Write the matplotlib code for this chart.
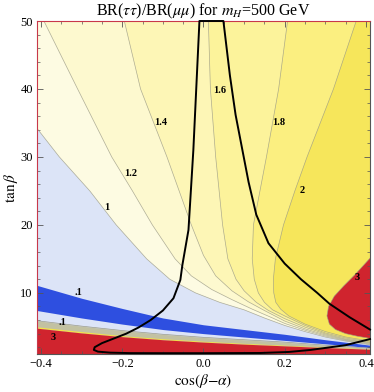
import numpy as np
import matplotlib.pyplot as plt
from matplotlib.ticker import MultipleLocator

plt.rcParams['font.family'] = ['Liberation Serif', 'DejaVu Serif']
plt.rcParams['mathtext.fontset'] = 'stix'

XMIN, XMAX = -0.41, 0.41
YMIN, YMAX = 1.0, 50.0

# contour lines of BR ratio: (cos(b-a), tan b)
levels = [1.0, 1.2, 1.4, 1.6, 1.8, 2.0]
c10_x = [-0.41, -0.355, -0.28, -0.215, -0.14, -0.083, -0.02, 0.04, 0.10, 0.15, 0.20, 0.25, 0.30, 0.35, 0.41]
c10_y = [34.2, 30, 25, 20, 15, 12, 10, 8.6, 7.5, 6.3, 5.2, 4.3, 3.5, 2.9, 2.35]
c12_x = [-0.393, -0.31, -0.226, -0.175, -0.126, -0.07, -0.03, 0.02, 0.07, 0.12, 0.17, 0.20, 0.25, 0.30, 0.35, 0.41]
c12_y = [50, 40, 30, 25, 20, 15, 12.5, 10.5, 9.0, 7.6, 6.3, 5.5, 4.5, 3.65, 3.0, 2.45]
c14_x = [-0.195, -0.155, -0.09, -0.06, -0.03, 0.0, 0.03, 0.07, 0.11, 0.15, 0.20, 0.25, 0.30, 0.35, 0.41]
c14_y = [50, 40, 30, 25, 20, 15.5, 12.5, 10.3, 8.7, 7.4, 5.85, 4.7, 3.8, 3.1, 2.55]
c16_x = [0.012, 0.017, 0.03, 0.047, 0.06, 0.08, 0.10, 0.13, 0.16, 0.20, 0.25, 0.30, 0.35, 0.41]
c16_y = [50, 40, 30, 20, 15, 12, 10.3, 8.6, 7.4, 6.2, 4.95, 3.95, 3.2, 2.65]
c18_x = [0.207, 0.185, 0.155, 0.123, 0.12, 0.125, 0.135, 0.15, 0.17, 0.20, 0.25, 0.30, 0.35, 0.41]
c18_y = [50, 40, 30, 20, 15, 12, 10, 8.6, 7.5, 6.6, 5.2, 4.1, 3.35, 2.75]
c20_x = [0.376, 0.32, 0.255, 0.225, 0.197, 0.177, 0.172, 0.173, 0.178, 0.19, 0.21, 0.25, 0.30, 0.35, 0.41]
c20_y = [50, 40, 30, 25, 20, 15, 12, 10, 8.6, 7.6, 6.6, 5.4, 4.3, 3.5, 2.9]

# region above 3 on the right
c30_x = [0.41, 0.375, 0.345, 0.322, 0.308, 0.304, 0.31, 0.325, 0.35, 0.38, 0.41]
c30_y = [15.1, 12.8, 11.0, 9.5, 8.0, 6.6, 5.4, 4.6, 4.0, 3.6, 3.3]

# low tan b structure
low_x = [-0.41, -0.3, -0.2, -0.1, 0.0, 0.1, 0.2, 0.3, 0.41]
band_hi = [11.1, 9.2, 7.7, 6.3, 5.3, 4.6, 3.9, 3.1, 2.3]     # BR ratio 0.1, upper
band_lo = [7.4, 6.3, 5.4, 4.6, 4.0, 3.5, 3.0, 2.5, 1.95]     # BR ratio 0.1, lower
gray_top = [5.9, 5.1, 4.45, 3.9, 3.45, 3.1, 2.75, 2.3, 1.85]
yel_top = [5.0, 4.3, 3.7, 3.25, 2.88, 2.57, 2.3, 2.03, 1.76]
red_top = [4.8, 4.1, 3.55, 3.1, 2.75, 2.45, 2.2, 1.95, 1.7]

# thick black constraint curve
blk_x = [0.41, 0.36, 0.31, 0.28, 0.24, 0.20, 0.16, 0.13, 0.111, 0.079, 0.065, 0.049,
         -0.010, -0.025, -0.037, -0.052, -0.057, -0.074, -0.10, -0.13, -0.16, -0.19,
         -0.22, -0.25, -0.268, -0.27, -0.26, -0.23, -0.18, -0.1, 0.0, 0.14, 0.21, 0.264, 0.35, 0.41]
blk_y = [4.6, 6.4, 8.4, 10.0, 12.0, 14.3, 17.3, 21.5, 26.3, 36.2, 42, 50,
         50, 31, 19.25, 14.1, 11.9, 9.2, 7.4, 6.0, 4.9, 4.0,
         3.3, 2.6, 2.0, 1.6, 1.35, 1.2, 1.13, 1.12, 1.12, 1.15, 1.3, 1.6, 2.3, 3.2]

lab_text = ['1', '1.2', '1.4', '1.6', '1.8', '2', '3', '.1', '.1', '3']
lab_x = [-0.239, -0.18, -0.106, 0.039, 0.185, 0.244, 0.379, -0.308, -0.347, -0.369]
lab_y = [22.5, 27.5, 35.0, 39.8, 35.0, 25.1, 12.2, 10.1, 5.7, 3.5]

col_lblue = '#dce4f7'
col_levels = ['#fdfbe2', '#fdf9cf', '#fdf6b6', '#fcf39b', '#fbef80', '#f6e65b']
col_red = '#d0242e'
col_blue = '#2e4fe0'

fig = plt.figure(figsize=(3.74, 3.92), dpi=100)
ax = fig.add_axes([37 / 374, 1 - 354 / 392, 333 / 374, 333 / 392])
ax.set_facecolor(col_lblue)

contours = [(c10_x, c10_y), (c12_x, c12_y), (c14_x, c14_y),
            (c16_x, c16_y), (c18_x, c18_y), (c20_x, c20_y)]
for (cx, cy), col in zip(contours, col_levels):
    ax.fill(cx + [XMAX, XMIN], cy + [YMAX, YMAX], color=col, lw=0)
ax.fill(c30_x, c30_y, color=col_red, lw=0)

for cx, cy in contours:
    ax.plot(cx, cy, color='#9a9a86', lw=0.5, alpha=0.8)
ax.plot(c30_x, c30_y, color='#9a9a86', lw=0.5, alpha=0.8)

ax.fill_between(low_x, band_lo, band_hi, color=col_blue, lw=0)
ax.fill_between(low_x, red_top, gray_top, color='#c2c1a2', lw=0)
ax.fill_between(low_x, red_top, yel_top, color='#f2e24a', lw=0)
ax.fill_between(low_x, YMIN, red_top, color=col_red, lw=0)
ax.plot(low_x, gray_top, color='#9a9a88', lw=0.5)

ax.plot(blk_x, blk_y, color='black', lw=1.4, clip_on=False, zorder=5)

for s, x, y in zip(lab_text, lab_x, lab_y):
    ax.text(x, y, s, fontsize=7.5, fontweight='bold', ha='center', va='center', zorder=6)

ax.set_xlim(XMIN, XMAX)
ax.set_ylim(YMIN, YMAX)
ax.set_xticks([-0.4, -0.2, 0.0, 0.2, 0.4])
ax.set_xticklabels(['\u22120.4', '\u22120.2', '0.0', '0.2', '0.4'])
ax.set_yticks([10, 20, 30, 40, 50])
ax.xaxis.set_minor_locator(MultipleLocator(0.05))
ax.yaxis.set_minor_locator(MultipleLocator(2))
ax.tick_params(which='both', direction='in', top=True, right=True, labelsize=9, color='#555555')
ax.tick_params(which='major', length=4, width=0.6, pad=3)
ax.tick_params(which='minor', length=2, width=0.5)
for side in ['left', 'top']:
    ax.spines[side].set_color('#c8384a')
for side in ['bottom', 'right']:
    ax.spines[side].set_color('#555555')

ax.set_xlabel(r'$\cos(\beta{-}\alpha)$', fontsize=11, labelpad=1)
ax.set_ylabel(r'$\tan\beta$', fontsize=11, labelpad=0)
ax.set_title(r'BR($\tau\tau$)/BR($\mu\mu$) for $m_H$=500 GeV', fontsize=11.5, pad=3)

fig.savefig('out.png', dpi=100)
